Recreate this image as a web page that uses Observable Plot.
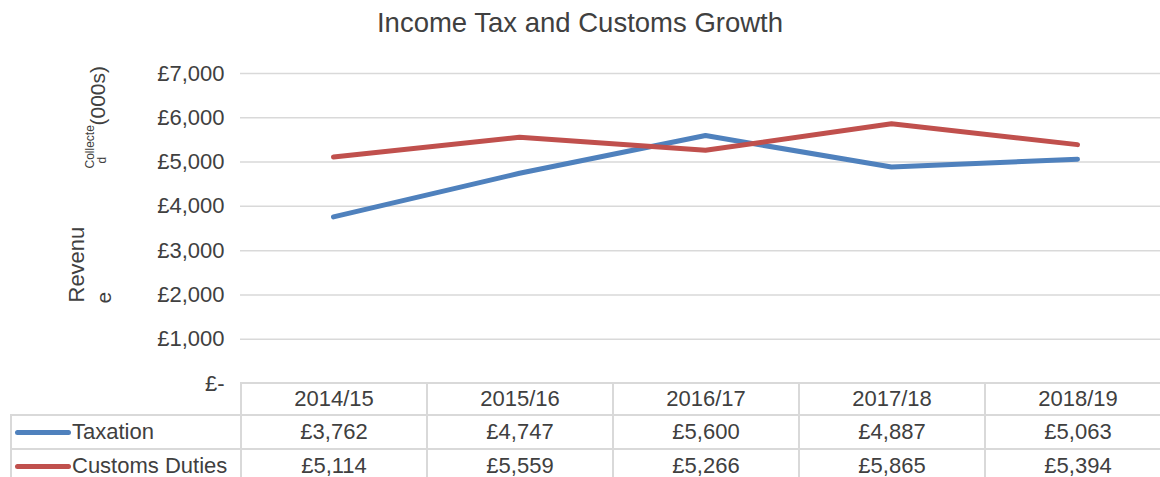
<!DOCTYPE html>
<html>
<head>
<meta charset="utf-8">
<script src="https://cdn.jsdelivr.net/npm/d3@7"></script>
<script src="https://cdn.jsdelivr.net/npm/@observablehq/plot@0.6"></script>
<style>
  html, body { margin: 0; padding: 0; background: #fff; }
  #wrap { position: relative; width: 1160px; height: 477px; overflow: hidden; font-family: "Liberation Sans", Arial, sans-serif; color: #404040; }
  #title { position: absolute; left: 0; top: 7px; width: 1160px; text-align: center; font-size: 27.5px; line-height: 32px; color: #404040; }
  #chart { position: absolute; left: 0; top: 0; }
  #table { position: absolute; left: 10px; top: 382px; border-collapse: collapse; table-layout: fixed; font-size: 22px; color: #404040; }
  #table td { border: 2px solid #d9d9d9; padding: 0; text-align: center; white-space: nowrap; overflow: hidden; }
  #table td.blank { border-top: none; border-left: none; }
  #table td.name { text-align: left; padding-left: 3px; }
  .key { display: inline-block; width: 56px; height: 5px; border-radius: 3px; vertical-align: middle; margin-right: 1px; position: relative; top: -1px; }
</style>
</head>
<body>
<div id="wrap">
  <div id="title"></div>
  <div id="chart"></div>
  <table id="table"></table>
</div>
<script>
const titleText = "Income Tax and Customs Growth";
const categories = ["2014/15", "2015/16", "2016/17", "2017/18", "2018/19"];
const seriesNames = ["Taxation", "Customs Duties"];
const taxation = [3762, 4747, 5600, 4887, 5063];
const customsDuties = [5114, 5559, 5266, 5865, 5394];
const yTicks = [0, 1000, 2000, 3000, 4000, 5000, 6000, 7000];
const seriesColors = ["#4f81bd", "#c0504d"];
const yLabelParts = [
  {text: "Revenu", size: 22, dx: 83 - 240, dy: 302 - 73},
  {text: "e", size: 21, dx: 110 - 240, dy: 303 - 73},
  {text: "Collecte", size: 12, dx: 93 - 240, dy: 168 - 73},
  {text: "d", size: 12, dx: 105 - 240, dy: 163 - 73},
  {text: "(000s)", size: 21, dx: 104 - 240, dy: 125 - 73}
];

const seriesValues = [taxation, customsDuties];
const rows = [];
seriesNames.forEach((s, i) => categories.forEach((c, j) => rows.push({series: s, cat: c, value: seriesValues[i][j]})));

const fmtMoney = d => d === 0 ? "£-" : "£" + d3.format(",")(d);
const xRange = [240, 1170];

document.getElementById("title").textContent = titleText;

const chart = Plot.plot({
  width: 1160,
  height: 477,
  marginTop: 73,
  marginBottom: 94,
  marginLeft: 240,
  marginRight: 0,
  x: {type: "point", domain: categories, range: xRange, padding: 0.5, axis: null},
  y: {domain: [0, 7000], axis: null, label: null},
  color: {domain: seriesNames, range: seriesColors},
  style: {fontFamily: "'Liberation Sans', Arial, sans-serif", background: "transparent", overflow: "visible", color: "#404040"},
  marks: [
    Plot.gridY(yTicks.filter(d => d > 0), {stroke: "#d9d9d9", strokeOpacity: 1, strokeWidth: 1.5}),
    Plot.axisY(yTicks, {tickSize: 0, tickPadding: 16, tickFormat: fmtMoney, fontSize: 22, fill: "#404040", label: null}),
    Plot.line(rows, {x: "cat", y: "value", z: "series", stroke: "series", strokeWidth: 5, strokeLinecap: "round", strokeLinejoin: "round"}),
    ...yLabelParts.map(p => Plot.text([p.text], {
      text: d => d, frameAnchor: "top-left", dx: p.dx, dy: p.dy, rotate: -90,
      textAnchor: "start", lineAnchor: "bottom", fontSize: p.size, fill: "#404040"
    }))
  ]
});
document.getElementById("chart").appendChild(chart);

// data table aligned to the chart's x scale
const xs = chart.scale("x");
const step = xs.step ?? (xRange[1] - xRange[0]) / (categories.length - 1 + 2 * 0.5);
const table = d3.select("#table");
const cg = table.append("colgroup");
cg.append("col").style("width", (xRange[0] - 10) + "px");
categories.forEach(() => cg.append("col").style("width", step + "px"));
table.style("width", (xRange[0] - 10 + step * categories.length) + "px");
const hdr = table.append("tr").style("height", "32px");
hdr.append("td").attr("class", "blank");
categories.forEach(c => hdr.append("td").text(c));
seriesNames.forEach((s, i) => {
  const tr = table.append("tr").style("height", "34px");
  const nameCell = tr.append("td").attr("class", "name");
  nameCell.append("span").attr("class", "key").style("background", seriesColors[i]);
  nameCell.append("span").text(s);
  seriesValues[i].forEach(v => tr.append("td").text(fmtMoney(v)));
});
</script>
</body>
</html>
